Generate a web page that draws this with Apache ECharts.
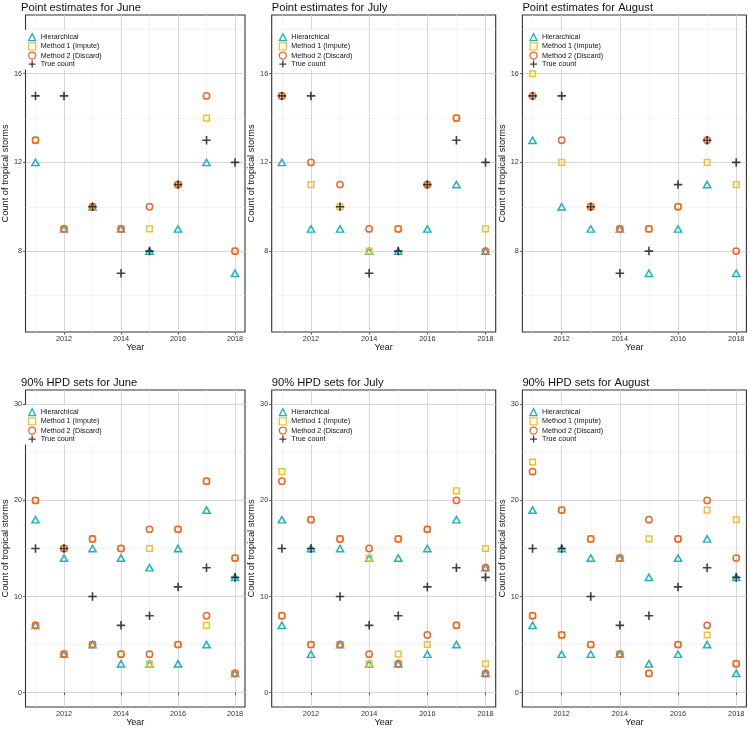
<!DOCTYPE html>
<html><head><meta charset="utf-8">
<script src="https://cdn.jsdelivr.net/npm/echarts@6/dist/echarts.min.js"></script>
<style>html,body{margin:0;padding:0;background:#fff}#c{width:750px;height:730px}</style>
</head><body><div id="c"></div>
<script>
// ---------- data ----------
const years = [2011, 2012, 2013, 2014, 2015, 2016, 2017, 2018];
const trueCount = [15, 15, 10, 7, 8, 11, 13, 12];

// point estimates
const juneH  = [12, 9, 10, 9, 8, 9, 12, 7];
const juneM1 = [13, 9, 10, 9, 9, 11, 14, 8];
const juneM2 = [13, 9, 10, 9, 10, 11, 15, 8];
const julyH  = [12, 9, 9, 8, 8, 9, 11, 8];
const julyM1 = [15, 11, 10, 8, 9, 11, 14, 9];
const julyM2 = [15, 12, 11, 9, 9, 11, 14, 8];
const augH   = [13, 10, 9, 9, 7, 9, 11, 7];
const augM1  = [16, 12, 10, 9, 9, 10, 12, 11];
const augM2  = [15, 13, 10, 9, 9, 10, 13, 8];

// 90% HPD sets (lower / upper)
const juneHLo  = [7, 4, 5, 3, 3, 3, 5, 2];
const juneHHi  = [18, 14, 15, 14, 13, 15, 19, 12];
const juneM1Lo = [7, 4, 5, 4, 3, 5, 7, 2];
const juneM1Hi = [20, 15, 16, 15, 15, 17, 22, 14];
const juneM2Lo = [7, 4, 5, 4, 4, 5, 8, 2];
const juneM2Hi = [20, 15, 16, 15, 17, 17, 22, 14];

const julyHLo  = [7, 4, 5, 3, 3, 4, 5, 2];
const julyHHi  = [18, 15, 15, 14, 14, 15, 18, 13];
const julyM1Lo = [8, 5, 5, 3, 4, 5, 7, 3];
const julyM1Hi = [23, 18, 16, 14, 16, 17, 21, 15];
const julyM2Lo = [8, 5, 5, 4, 3, 6, 7, 2];
const julyM2Hi = [22, 18, 16, 15, 16, 17, 20, 13];

const augHLo   = [7, 4, 4, 4, 3, 4, 5, 2];
const augHHi   = [19, 15, 14, 14, 12, 14, 16, 12];
const augM1Lo  = [8, 6, 5, 4, 2, 5, 6, 3];
const augM1Hi  = [24, 19, 16, 14, 16, 16, 19, 18];
const augM2Lo  = [8, 6, 5, 4, 2, 5, 7, 3];
const augM2Hi  = [23, 19, 16, 14, 18, 16, 20, 14];

// ticks
const xTicks = [2012, 2014, 2016, 2018];
const xMinor = [2011, 2013, 2015, 2017];
const pointYTicks = [8, 12, 16];
const pointYMinor = [6, 10, 14, 18];
const hpdYTicks = [0, 10, 20, 30];
const hpdYMinor = [5, 15, 25];

const seriesNames = ['Hierarchical', 'Method 1 (Impute)', 'Method 2 (Discard)', 'True count'];
const months = ['June', 'July', 'August'];

// ---------- styling ----------
const FONT = '"Liberation Sans", Arial, Helvetica, sans-serif';
const COLORS = ['#1FB2C3', '#EEC32F', '#EC6531', '#111111'];
const colLeft = [21, 271.7, 522.4];
const rowTop = [15, 390];
const PW = 224, PH = 317;
const CROSS = 'path://M-0.19,-1L0.19,-1L0.19,-0.19L1,-0.19L1,0.19L0.19,0.19L0.19,1L-0.19,1L-0.19,0.19L-1,0.19L-1,-0.19L-0.19,-0.19Z';

const option = {
  animation: false,
  backgroundColor: '#fff',
  textStyle: { fontFamily: FONT },
  title: [], grid: [], xAxis: [], yAxis: [], legend: [], series: []
};

function pairs(arr) { return years.map((y, i) => [y, arr[i]]); }
function flat(sets) { let out = []; sets.forEach(s => { out = out.concat(pairs(s)); }); return out; }
const plain = v => String(v);

function addPanel(idx, row, col, titleText, yMin, yMax, yTicks, yMinor, hSets, m1Sets, m2Sets) {
  const L = colLeft[col], T = rowTop[row];
  option.title.push({
    text: titleText, left: L, top: T - 13, padding: 0,
    textStyle: { fontSize: 11.2, fontWeight: 'normal', color: '#111', fontFamily: FONT }
  });
  option.grid.push({
    left: L, top: T, width: PW, height: PH, show: true,
    borderColor: '#333', borderWidth: 1.1, backgroundColor: 'transparent'
  });
  option.xAxis.push({
    type: 'value', gridIndex: idx, min: 2010.65, max: 2018.35,
    name: 'Year', nameLocation: 'middle', nameGap: 10,
    nameTextStyle: { fontSize: 9, color: '#111', fontFamily: FONT },
    axisLine: { show: false },
    axisTick: { show: true, customValues: xTicks, length: 2.5, lineStyle: { color: '#333', width: 0.8 } },
    axisLabel: { customValues: xTicks, formatter: plain, fontSize: 7.3, color: '#333', margin: 3, fontFamily: FONT },
    splitLine: { show: false }
  });
  option.yAxis.push({
    type: 'value', gridIndex: idx, min: yMin, max: yMax,
    name: 'Count of tropical storms', nameLocation: 'middle', nameGap: 12, nameRotate: 90,
    nameTextStyle: { fontSize: 9.3, color: '#111', fontFamily: FONT },
    axisLine: { show: false },
    axisTick: { show: true, customValues: yTicks, length: 2.5, lineStyle: { color: '#333', width: 0.8 } },
    axisLabel: { customValues: yTicks, formatter: plain, fontSize: 7.3, color: '#333', margin: 3.5, fontFamily: FONT },
    splitLine: { show: false }
  });
  // grid lines
  const major = { color: '#d2d2d2', width: 0.9, type: 'solid' };
  const minor = { color: '#eeeeee', width: 0.6, type: 'solid' };
  const mlData = [];
  xMinor.forEach(v => mlData.push({ xAxis: v, lineStyle: minor }));
  yMinor.forEach(v => mlData.push({ yAxis: v, lineStyle: minor }));
  xTicks.forEach(v => mlData.push({ xAxis: v, lineStyle: major }));
  yTicks.forEach(v => mlData.push({ yAxis: v, lineStyle: major }));
  option.series.push({
    type: 'line', name: '_grid' + idx, xAxisIndex: idx, yAxisIndex: idx, data: [], z: 0, silent: true,
    markLine: { silent: true, symbol: ['none', 'none'], label: { show: false }, animation: false, data: mlData, z: 0 }
  });
  const common = { type: 'scatter', xAxisIndex: idx, yAxisIndex: idx, silent: true, z: 3 };
  option.series.push(Object.assign({}, common, {
    name: seriesNames[0], data: flat(hSets), symbol: 'triangle', symbolSize: [7.2, 6.4],
    itemStyle: { color: 'rgba(0,0,0,0)', borderColor: COLORS[0], borderWidth: 1.5, opacity: 1 }
  }));
  option.series.push(Object.assign({}, common, {
    name: seriesNames[1], data: flat(m1Sets), symbol: 'rect', symbolSize: 5.6,
    itemStyle: { color: 'rgba(0,0,0,0)', borderColor: COLORS[1], borderWidth: 1.5, opacity: 1 }
  }));
  option.series.push(Object.assign({}, common, {
    name: seriesNames[2], data: flat(m2Sets), symbol: 'circle', symbolSize: 6.3,
    itemStyle: { color: 'rgba(0,0,0,0)', borderColor: COLORS[2], borderWidth: 1.5, opacity: 1 }
  }));
  option.series.push(Object.assign({}, common, {
    name: seriesNames[3], data: pairs(trueCount), symbol: CROSS, symbolSize: 8.5,
    itemStyle: { color: COLORS[3], borderWidth: 0 }
  }));
  option.legend.push({
    left: L + 3, top: T + 15, orient: 'vertical', z: 10,
    backgroundColor: '#fff', padding: [3, 6, 2, 4],
    itemWidth: 7, itemHeight: 7, itemGap: 0.9,
    selectedMode: false,
    textStyle: { fontSize: 7.2, lineHeight: 7, color: '#111', fontFamily: FONT, padding: [0, 0, 0, 0] },
    data: [
      { name: seriesNames[0], icon: 'triangle', itemStyle: { color: 'rgba(0,0,0,0)', borderColor: COLORS[0], borderWidth: 1.3 } },
      { name: seriesNames[1], icon: 'rect', itemStyle: { color: 'rgba(0,0,0,0)', borderColor: COLORS[1], borderWidth: 1.3 } },
      { name: seriesNames[2], icon: 'circle', itemStyle: { color: 'rgba(0,0,0,0)', borderColor: COLORS[2], borderWidth: 1.3 } },
      { name: seriesNames[3], icon: CROSS, itemStyle: { color: COLORS[3], borderWidth: 0 } }
    ]
  });
}

addPanel(0, 0, 0, 'Point estimates for ' + months[0], 4.35, 18.65, pointYTicks, pointYMinor, [juneH], [juneM1], [juneM2]);
addPanel(1, 0, 1, 'Point estimates for ' + months[1], 4.35, 18.65, pointYTicks, pointYMinor, [julyH], [julyM1], [julyM2]);
addPanel(2, 0, 2, 'Point estimates for ' + months[2], 4.35, 18.65, pointYTicks, pointYMinor, [augH], [augM1], [augM2]);
addPanel(3, 1, 0, '90% HPD sets for ' + months[0], -1.5, 31.5, hpdYTicks, hpdYMinor, [juneHLo, juneHHi], [juneM1Lo, juneM1Hi], [juneM2Lo, juneM2Hi]);
addPanel(4, 1, 1, '90% HPD sets for ' + months[1], -1.5, 31.5, hpdYTicks, hpdYMinor, [julyHLo, julyHHi], [julyM1Lo, julyM1Hi], [julyM2Lo, julyM2Hi]);
addPanel(5, 1, 2, '90% HPD sets for ' + months[2], -1.5, 31.5, hpdYTicks, hpdYMinor, [augHLo, augHHi], [augM1Lo, augM1Hi], [augM2Lo, augM2Hi]);

const chart = echarts.init(document.getElementById('c'));
chart.setOption(option);
</script>
</body></html>
